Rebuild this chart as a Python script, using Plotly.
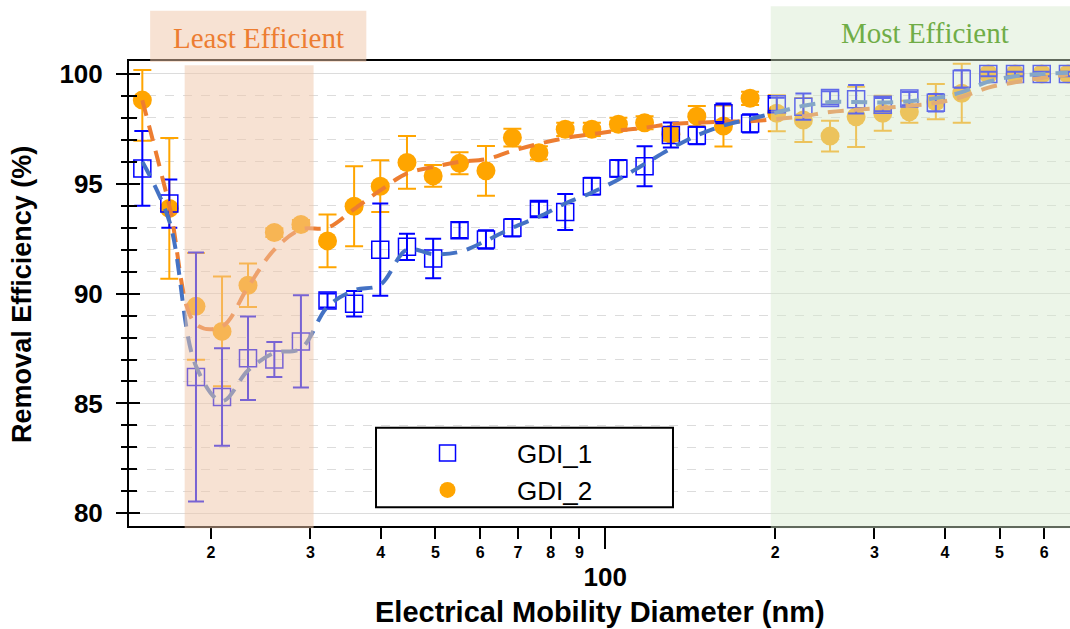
import numpy as np
import plotly.graph_objects as go

# Electrical mobility diameter bins (nm)
diameter_nm = [15.11, 16.87, 18.81, 20.92, 23.26, 25.90, 28.87, 32.18, 35.87, 39.91,
               44.51, 49.53, 55.16, 61.44, 68.44, 76.27, 84.91, 94.66, 105.5, 117.4,
               130.7, 145.3, 162.0, 180.6, 201.4, 224.5, 250.3, 278.4, 310.4, 346.0,
               385.5, 428.5, 477.6, 532.6, 594.0, 661.0]

# GDI_1: removal efficiency (%) and standard deviation
gdi1_eff = [95.70, 94.10, 86.20, 85.29, 87.06, 87.00, 87.82, 89.69, 89.54, 92.00,
            92.13, 91.60, 92.89, 92.46, 93.00, 93.85, 93.72, 94.89, 95.70, 95.80,
            97.22, 97.20, 98.21, 97.75, 98.62, 98.51, 98.91, 98.85, 98.60, 98.88,
            98.69, 99.77, 100.0, 100.0, 100.0, 100.0]
gdi1_err = [1.70, 1.10, 5.67, 2.22, 1.90, 0.80, 2.10, 0.32, 0.58, 2.10,
            0.60, 0.90, 0.36, 0.42, 0.40, 0.33, 0.82, 0.38, 0.38, 0.91,
            0.57, 0.40, 0.45, 0.42, 0.30, 0.60, 0.30, 0.65, 0.30, 0.30,
            0.40, 0.40, 0.10, 0.10, 0.10, 0.10]

# GDI_2: removal efficiency (%) and standard deviation (upper / lower)
gdi2_eff = [98.81, 93.88, 89.42, 88.28, 90.38, 92.78, 93.15, 92.40, 93.98, 94.89,
            95.97, 95.36, 95.93, 95.59, 97.10, 96.41, 97.48, 97.48, 97.71, 97.78,
            97.26, 98.08, 97.63, 98.89, 98.21, 97.90, 97.17, 98.05, 98.21, 98.28,
            98.74, 99.12, 100.0, 100.0, 100.0, 100.0]
gdi2_err_up = [1.37, 3.20, 2.43, 2.50, 0.99, 0.20, 0.20, 1.20, 1.82, 1.18,
               1.20, 0.50, 0.50, 1.13, 0.40, 0.30, 0.30, 0.30, 0.30, 0.30,
               0.30, 0.46, 0.93, 0.30, 0.82, 1.00, 0.70, 1.37, 0.80, 0.50,
               0.80, 1.34, 0.10, 0.10, 0.10, 0.10]
gdi2_err_down = [1.85] + gdi2_err_up[1:]

# Smoothed trend curves
gdi1_fit = [96.0, 93.3, 86.7, 85.1, 86.5, 87.3, 87.5, 89.4, 90.15, 90.4,
            92.0, 91.8, 91.9, 92.4, 93.0, 93.5, 94.1, 94.6, 95.2, 95.9,
            96.6, 97.2, 97.65, 97.95, 98.25, 98.55, 98.72, 98.72, 98.7, 98.76,
            98.9, 99.17, 99.65, 99.9, 100.0, 100.05]
gdi2_fit = [98.8, 94.0, 88.6, 88.5, 90.3, 92.0, 92.92, 93.0, 93.85, 94.7,
            95.47, 95.76, 96.0, 96.12, 96.5, 96.82, 97.08, 97.26, 97.42, 97.55,
            97.72, 97.78, 97.82, 97.85, 97.95, 98.08, 98.27, 98.37, 98.46, 98.55,
            98.68, 98.95, 99.38, 99.62, 99.82, 99.97]

# Axis ticks
minor_ticks = [20, 30, 40, 50, 60, 70, 80, 90, 200, 300, 400, 500, 600]
minor_labels = ["2", "3", "4", "5", "6", "7", "8", "9", "2", "3", "4", "5", "6"]
decade_ticks = [100]
decade_labels = ["100"]
y_ticks = [80, 85, 90, 95, 100]

# Highlighted size ranges (nm)
least_range = (17.96, 30.4)
least_label_range = (15.6, 37.7)
most_range = (196.5, 700.0)

X_RANGE = [np.log10(14.31), np.log10(666.6)]
Y_RANGE = [79.42, 100.59]

SANS = "Liberation Sans, Arial, sans-serif"
SERIF = "Liberation Serif, Times New Roman, serif"

fig = go.Figure()

fig.add_trace(go.Scatter(
    x=diameter_nm, y=gdi2_eff, mode="markers", name="GDI_2", legendrank=2,
    marker=dict(symbol="circle", size=19, color="#FFA500"),
    error_y=dict(type="data", array=gdi2_err_up, arrayminus=gdi2_err_down,
                 color="#FFA500", thickness=2, width=9),
))
fig.add_trace(go.Scatter(
    x=diameter_nm, y=gdi1_eff, mode="markers", name="GDI_1", legendrank=1,
    marker=dict(symbol="square-open", size=17, color="#0000FF",
                line=dict(width=1.5, color="#0000FF")),
    error_y=dict(type="data", array=gdi1_err, color="#0000FF", thickness=2, width=8),
))
# Trend curves live on the overlay axes (same ranges), drawn over the markers
fig.add_trace(go.Scatter(
    x=diameter_nm, y=gdi2_fit, mode="lines", showlegend=False, xaxis="x2", yaxis="y2",
    line=dict(color="#ED7D31", width=4, dash="16px,10px", shape="spline"),
))
fig.add_trace(go.Scatter(
    x=diameter_nm, y=gdi1_fit, mode="lines", showlegend=False, xaxis="x2", yaxis="y2",
    line=dict(color="#4472C4", width=4, dash="16px,10px", shape="spline"),
))

# Shaded efficiency bands, drawn over the data
peach = "rgb(240,197,168)"
green = "rgb(213,232,203)"
fig.add_shape(type="rect", xref="x", yref="paper",
              x0=least_range[0], x1=least_range[1], y0=-0.005, y1=0.991,
              fillcolor=peach, opacity=0.5, line_width=0, layer="above")
fig.add_shape(type="rect", xref="x", yref="paper",
              x0=least_label_range[0], x1=least_label_range[1], y0=0.998, y1=1.108,
              fillcolor=peach, opacity=0.5, line_width=0, layer="above")
fig.add_shape(type="rect", xref="x", yref="paper",
              x0=most_range[0], x1=most_range[1], y0=-0.005, y1=1.118,
              fillcolor=green, opacity=0.45, line_width=0, layer="above")

# Legend frame
fig.add_shape(type="rect", xref="paper", yref="paper",
              x0=0.2625, x1=0.5781, y0=0.0402, y1=0.2114,
              fillcolor="white", line=dict(color="black", width=2), layer="above")

fig.add_annotation(x=(np.log10(least_label_range[0]) + np.log10(least_label_range[1])) / 2,
                   xref="x", y=1.0495, yref="paper", xanchor="center", yanchor="middle",
                   text="Least Efficient", showarrow=False,
                   font=dict(family=SERIF, size=29, color="#ED7D31"))
fig.add_annotation(x=np.log10(369.0), xref="x", y=1.060, yref="paper",
                   xanchor="center", yanchor="middle",
                   text="Most Efficient", showarrow=False,
                   font=dict(family=SERIF, size=29, color="#70AD47"))

# Axis titles
fig.add_annotation(x=-0.1137, xref="paper", y=0.497, yref="paper",
                   xanchor="center", yanchor="middle",
                   text="Removal Efficiency (%)", textangle=-90, showarrow=False,
                   font=dict(family=SANS, size=27, color="black", weight="bold"))
fig.add_annotation(x=0.5, xref="paper", y=-0.185, yref="paper",
                   xanchor="center", yanchor="middle",
                   text="Electrical Mobility Diameter (nm)", showarrow=False,
                   font=dict(family=SANS, size=29, color="black", weight="bold"))

fig.update_layout(
    width=1070, height=629,
    margin=dict(l=129, r=0, t=61, b=103),
    paper_bgcolor="white", plot_bgcolor="white",
    showlegend=True,
    legend=dict(x=0.2625, y=0.2114, xanchor="left", yanchor="top",
                bgcolor="rgba(0,0,0,0)", bordercolor="rgba(0,0,0,0)", borderwidth=2,
                font=dict(family=SANS, size=26, color="black"),
                itemwidth=129),
    xaxis=dict(type="log", range=X_RANGE, showline=True, linecolor="black",
               linewidth=2, mirror=True, showgrid=False, zeroline=False,
               tickmode="array", tickvals=minor_ticks, ticktext=minor_labels,
               ticks="outside", ticklen=11, tickwidth=2, tickcolor="black",
               tickfont=dict(family=SANS, size=16, color="black", weight="bold")),
    xaxis2=dict(type="log", range=X_RANGE, overlaying="x", anchor="y", side="bottom",
                showline=False, showgrid=False, zeroline=False,
                tickmode="array", tickvals=decade_ticks, ticktext=decade_labels,
                ticks="outside", ticklen=22, tickwidth=2, tickcolor="black",
                ticklabelstandoff=6,
                tickfont=dict(family=SANS, size=26, color="black", weight="bold")),
    yaxis=dict(range=Y_RANGE, showline=True, linecolor="black", linewidth=2,
               zeroline=False, tickmode="array", tickvals=y_ticks,
               ticks="outside", ticklen=11, tickwidth=2, tickcolor="black",
               ticklabelstandoff=8,
               showgrid=True, gridcolor="#DCDCDC", gridwidth=1,
               tickfont=dict(family=SANS, size=26, color="black", weight="bold"),
               minor=dict(dtick=1, tick0=80, ticks="outside", ticklen=6, tickwidth=2,
                          tickcolor="black", showgrid=True, gridcolor="#DCDCDC",
                          griddash="dash", gridwidth=1)),
    yaxis2=dict(range=Y_RANGE, overlaying="y", anchor="x", side="left",
                showline=False, zeroline=False, showgrid=False, showticklabels=False,
                tickmode="array", tickvals=y_ticks, ticks="inside", ticklen=11,
                tickwidth=2, tickcolor="black",
                minor=dict(dtick=1, tick0=80, ticks="inside", ticklen=8, tickwidth=2,
                           tickcolor="black", showgrid=False)),
)

fig.write_html("out.html")
